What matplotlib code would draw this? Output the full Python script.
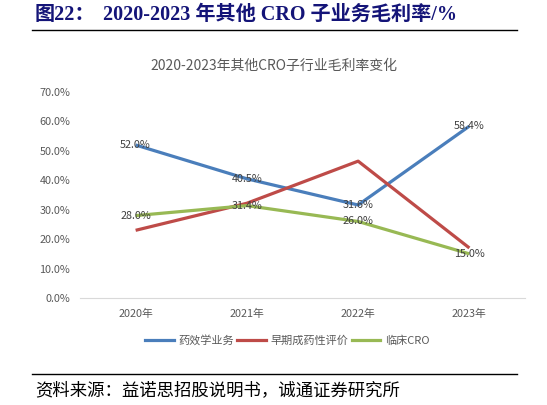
import numpy as np
import matplotlib
matplotlib.use("Agg")
import matplotlib.pyplot as plt
from matplotlib.lines import Line2D

plt.rcParams['font.family'] = ['Noto Sans CJK SC', 'DejaVu Sans']

# data
years = ["2020年", "2021年", "2022年", "2023年"]
pharmacology = [52.0, 40.5, 31.6, 58.4]      # 药效学业务
early_eval = [23.0, 32.2, 46.5, 17.0]        # 早期成药性评价 (no labels in source)
clinical = [28.0, 31.4, 26.0, 15.0]          # 临床CRO
series_names = ["药效学业务", "早期成药性评价", "临床CRO"]
colors = ["#4A7EBB", "#BE4B48", "#98B954"]

W, H = 547, 405
fig = plt.figure(figsize=(W / 100, H / 100), dpi=100)
fig.patch.set_facecolor("white")

ax = fig.add_axes([80 / W, 1 - 298 / H, 445 / W, 206 / H])
x = np.arange(len(years))
for vals, c in zip([pharmacology, early_eval, clinical], colors):
    ax.plot(x, vals, color=c, lw=2.3, solid_capstyle="butt")

# data labels sit centred on the points
for vals in [pharmacology, clinical]:
    for xi, v in zip(x, vals):
        ax.text(xi, v, f"{v:.1f}%", ha="center", va="center",
                fontsize=7.8, color="#404040")

ax.set_xlim(-0.5, 3.5)
ax.set_ylim(0, 70)
ax.set_yticks(np.arange(0, 71, 10))
ax.set_yticklabels([f"{v:.1f}%" for v in np.arange(0, 71, 10)])
ax.set_xticks(x)
ax.set_xticklabels(years)
ax.tick_params(axis="both", length=0, labelsize=7.8, colors="#595959")
ax.tick_params(axis="y", pad=7)
ax.tick_params(axis="x", pad=8)
for s in ["top", "right", "left"]:
    ax.spines[s].set_visible(False)
ax.spines["bottom"].set_color("#D9D9D9")
ax.spines["bottom"].set_linewidth(0.8)

handles = [Line2D([], [], color=c, lw=2.3) for c in colors]
fig.legend(handles, series_names, loc="center", ncol=3,
           bbox_to_anchor=(287 / W, 1 - 340 / H), frameon=False,
           fontsize=8, labelcolor="#595959", handlelength=2.6,
           handletextpad=0.4, columnspacing=0.3)

fig.text(274 / W, 1 - 66 / H, "2020-2023年其他CRO子行业毛利率变化",
         ha="center", va="center", fontsize=10, color="#595959")

# report header and footer
fig.text(35 / W, 1 - 15 / H, "图22：", ha="left", va="center",
         fontsize=14.5, fontweight="bold", color="#141478",
         family=['Liberation Serif', 'Noto Sans CJK SC'])
fig.text(103 / W, 1 - 15 / H, "2020-2023 年其他 CRO 子业务毛利率/%",
         ha="left", va="center", fontsize=14.5, fontweight="bold",
         color="#141478", family=['Liberation Serif', 'Noto Sans CJK SC'])
fig.add_artist(Line2D([32 / W, 517 / W], [1 - 30 / H, 1 - 30 / H],
                      color="black", lw=1))
fig.add_artist(Line2D([32 / W, 517 / W], [1 - 374 / H, 1 - 374 / H],
                      color="black", lw=1))
fig.text(35 / W, 1 - 390 / H, "资料来源：益诺思招股说明书，诚通证券研究所",
         ha="left", va="center", fontsize=12.5, color="black")

fig.savefig("out.png", dpi=100, facecolor="white")
